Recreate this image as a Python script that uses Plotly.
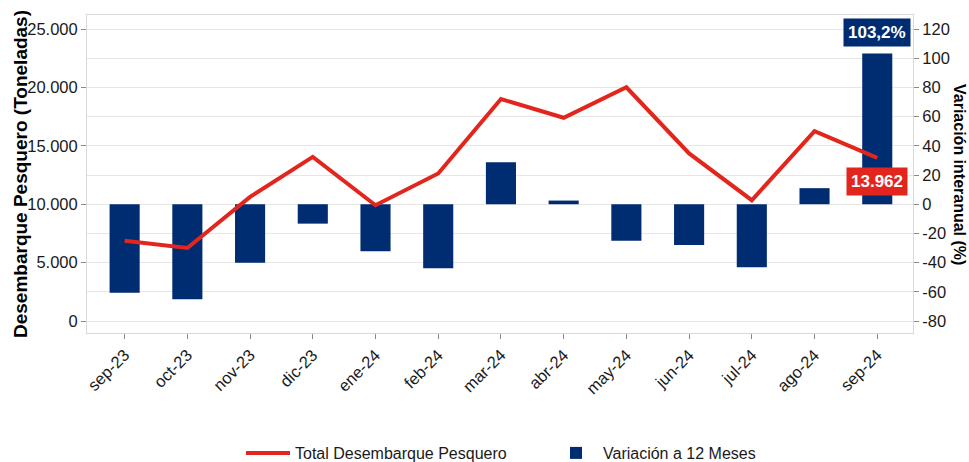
import plotly.graph_objects as go

months = ["sep-23", "oct-23", "nov-23", "dic-23", "ene-24", "feb-24", "mar-24",
          "abr-24", "may-24", "jun-24", "jul-24", "ago-24", "sep-24"]
desembarque = [6871, 6252, 10626, 14057, 9914, 12633, 19005,
               17400, 20009, 14348, 10343, 16260, 13962]
variacion = [-60.7, -65.0, -40.0, -13.3, -32.2, -43.9, 28.7,
             2.5, -25.0, -28.0, -43.2, 11.0, 103.2]

left_ticks = [0, 5000, 10000, 15000, 20000, 25000]
left_ticklabels = ["0", "5.000", "10.000", "15.000", "20.000", "25.000"]
right_ticks = [-80, -60, -40, -20, 0, 20, 40, 60, 80, 100, 120]
right_ticklabels = ["-80", "-60", "-40", "-20", "0", "20", "40", "60", "80", "100", "120"]

NAVY = "#002D72"
RED = "#E3261D"
FONT = "Liberation Sans, Arial, sans-serif"
TXT = "#1a1a1a"

ML, MR, MT, MB = 87, 56, 15, 129
W, H = 969, 462
plot_w = W - ML - MR

fig = go.Figure()
fig.add_trace(go.Scatter(
    x=months, y=desembarque, name="Total Desembarque Pesquero",
    mode="lines", line=dict(color=RED, width=4), yaxis="y2", legendrank=1,
    hoverinfo="skip",
))
fig.add_trace(go.Bar(
    x=months, y=variacion, name="Variación a 12 Meses",
    marker=dict(color=NAVY, line=dict(width=0)), width=0.48, yaxis="y", legendrank=2,
    hoverinfo="skip",
))

last_var = variacion[-1]
last_des = desembarque[-1]
fig.add_annotation(
    x=months[-1], y=last_var, xref="x", yref="y",
    text="<b>" + f"{last_var:.1f}".replace(".", ",") + "%</b>",
    showarrow=False, yanchor="bottom", yshift=7,
    font=dict(family=FONT, size=17, color="white"),
    bgcolor=NAVY, borderpad=4,
)
fig.add_annotation(
    x=months[-1], y=last_des, xref="x", yref="y2",
    text="<b>" + f"{last_des:,}".replace(",", ".") + "</b>",
    showarrow=False, yanchor="top", yshift=-9,
    font=dict(family=FONT, size=17, color="white"),
    bgcolor=RED, borderpad=4,
)
fig.add_annotation(
    x=(20 - ML) / plot_w, y=0.5, xref="paper", yref="paper", xanchor="center", yanchor="middle",
    text="<b>Desembarque Pesquero (Toneladas)</b>", textangle=-90, showarrow=False,
    font=dict(family=FONT, size=19, color="black"),
)
fig.add_annotation(
    x=(960 - ML) / plot_w, y=0.5, xref="paper", yref="paper", xanchor="center", yanchor="middle",
    text="<b>Variación interanual (%)</b>", textangle=90, showarrow=False,
    font=dict(family=FONT, size=16, color="black"),
)

fig.update_layout(
    width=W, height=H,
    margin=dict(l=ML, r=MR, t=MT, b=MB),
    paper_bgcolor="white", plot_bgcolor="white",
    font=dict(family=FONT, size=16, color=TXT),
    showlegend=True,
    legend=dict(orientation="h", xref="container", x=(246 - 5) / W, xanchor="left",
                yref="container", y=(H - 453) / H, yanchor="middle",
                font=dict(size=16, color=TXT), itemwidth=44, entrywidth=249,
                bgcolor="rgba(0,0,0,0)"),
    xaxis=dict(
        type="category", range=[-0.6, 12.57], tickangle=-45,
        ticks="outside", ticklen=5, tickcolor="#888", showgrid=False,
        showline=True, linecolor="#d9d9d9", mirror=True,
        tickfont=dict(size=16.5, color=TXT),
    ),
    yaxis=dict(
        side="right", range=[-88.2, 129.6], tickvals=right_ticks, ticktext=right_ticklabels,
        ticks="outside", ticklen=5, tickcolor="#888",
        showgrid=True, gridcolor="#e6e6e6", gridwidth=1, zeroline=False,
        showline=True, linecolor="#d9d9d9", mirror=True,
        tickfont=dict(size=16.5, color=TXT),
    ),
    yaxis2=dict(
        side="left", overlaying="y", range=[-1025, 26200],
        tickvals=left_ticks, ticktext=left_ticklabels,
        ticks="outside", ticklen=5, tickcolor="#888", showgrid=False, zeroline=False,
        tickfont=dict(size=16.5, color=TXT),
    ),
)

fig.write_html("out.html", config={"displayModeBar": False},
               post_script="document.body.style.margin='0';")
